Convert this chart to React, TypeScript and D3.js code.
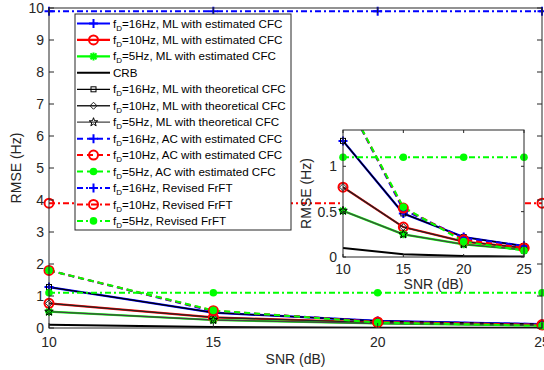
import React from 'react'
import * as d3 from 'd3'

// SNR points (dB)
const snr = [10, 15, 20, 25]

// ML with estimated CFC
const mlEst16 = [1.28, 0.48, 0.22, 0.12]
const mlEst10 = [0.77, 0.33, 0.17, 0.1]
const mlEst5 = [0.51, 0.25, 0.14, 0.08]
// CRB
const crb = [0.1, 0.03, 0.01, 0.005]
// ML with theoretical CFC (drawn on top of the estimated curves)
const mlTheo16 = [1.28, 0.48, 0.22, 0.12]
const mlTheo10 = [0.77, 0.33, 0.17, 0.1]
const mlTheo5 = [0.51, 0.25, 0.14, 0.08]
// AC with estimated CFC
const ac16 = [1.8, 0.52, 0.21, 0.12]
const ac10 = [1.8, 0.54, 0.19, 0.1]
const ac5 = [1.8, 0.55, 0.17, 0.07]
// Revised FrFT
const frft16 = [9.9, 9.9, 9.9, 9.9]
const frft10 = [3.9, 3.9, 3.9, 3.9]
const frft5 = [1.1, 1.1, 1.1, 1.1]

const mainYTicks = [0, 1, 2, 3, 4, 5, 6, 7, 8, 9, 10]
const insetYTicks = [0, 0.5, 1]
const xTicks = [10, 15, 20, 25]

type Marker = 'plus' | 'circle' | 'asterisk' | 'square' | 'diamond' | 'star' | 'dot' | 'none'

type Series = {
  fd: string
  text: string
  values: number[]
  color: string
  width: number
  dash?: string
  marker: Marker
  markerColor?: string
}

const series: Series[] = [
  { fd: '16Hz', text: ', ML with estimated CFC', values: mlEst16, color: '#0000ff', width: 2.2, marker: 'plus' },
  { fd: '10Hz', text: ', ML with estimated CFC', values: mlEst10, color: '#ff0000', width: 2.2, marker: 'circle' },
  { fd: '5Hz', text: ', ML with estimated CFC', values: mlEst5, color: '#00ff00', width: 2.2, marker: 'asterisk' },
  { fd: '', text: 'CRB', values: crb, color: '#000000', width: 2, marker: 'none' },
  { fd: '16Hz', text: ', ML with theoretical CFC', values: mlTheo16, color: '#000000', width: 1.3, marker: 'square' },
  { fd: '10Hz', text: ', ML with theoretical CFC', values: mlTheo10, color: '#222222', width: 1.3, marker: 'diamond' },
  { fd: '5Hz', text: ', ML with theoretical CFC', values: mlTheo5, color: '#444444', width: 1.3, marker: 'star', markerColor: '#000000' },
  { fd: '16Hz', text: ', AC with estimated CFC', values: ac16, color: '#0000ff', width: 2, dash: '6,4', marker: 'plus' },
  { fd: '10Hz', text: ', AC with estimated CFC', values: ac10, color: '#ff0000', width: 2, dash: '6,4', marker: 'circle' },
  { fd: '5Hz', text: ', AC with estimated CFC', values: ac5, color: '#00ff00', width: 2, dash: '6,4', marker: 'dot' },
  { fd: '16Hz', text: ', Revised FrFT', values: frft16, color: '#0000ff', width: 2, dash: '6,3,2,3', marker: 'plus' },
  { fd: '10Hz', text: ', Revised FrFT', values: frft10, color: '#ff0000', width: 2, dash: '6,3,2,3', marker: 'circle' },
  { fd: '5Hz', text: ', Revised FrFT', values: frft5, color: '#00ff00', width: 2, dash: '6,3,2,3', marker: 'dot' },
]

const font = "'Liberation Sans', Arial, Helvetica, sans-serif"
const axisColor = '#262626'

const starPath = (cx: number, cy: number, r: number) => {
  const pts: string[] = []
  for (let i = 0; i < 10; i++) {
    const a = -Math.PI / 2 + (i * Math.PI) / 5
    const rr = i % 2 === 0 ? r : r * 0.4
    pts.push(`${cx + rr * Math.cos(a)},${cy + rr * Math.sin(a)}`)
  }
  return `M${pts.join('L')}Z`
}

const MarkerShape: React.FC<{ type: Marker; x: number; y: number; color: string }> = ({ type, x, y, color }) => {
  switch (type) {
    case 'plus':
      return (
        <path d={`M${x - 4.5},${y}H${x + 4.5}M${x},${y - 4.5}V${y + 4.5}`} stroke={color} strokeWidth={2} />
      )
    case 'circle':
      return <circle cx={x} cy={y} r={4.5} fill="none" stroke={color} strokeWidth={2} />
    case 'asterisk':
      return (
        <path
          d={`M${x - 4},${y}H${x + 4}M${x},${y - 4}V${y + 4}M${x - 3},${y - 3}L${x + 3},${y + 3}M${x - 3},${y + 3}L${x + 3},${y - 3}`}
          stroke={color}
          strokeWidth={2}
        />
      )
    case 'square':
      return <rect x={x - 2.5} y={y - 2.5} width={5} height={5} fill="none" stroke={color} strokeWidth={1} />
    case 'diamond':
      return (
        <path d={`M${x},${y - 3.5}L${x + 3.5},${y}L${x},${y + 3.5}L${x - 3.5},${y}Z`} fill="none" stroke={color} strokeWidth={1} />
      )
    case 'star':
      return <path d={starPath(x, y, 4.5)} fill="none" stroke={color} strokeWidth={1} />
    case 'dot':
      return <circle cx={x} cy={y} r={3.8} fill={color} />
    default:
      return null
  }
}

type AxesProps = {
  id: string
  x: d3.ScaleLinear<number, number>
  y: d3.ScaleLinear<number, number>
  yTicks: number[]
  tickLen: number
  fontSize: number
  xLabelY: number
  yLabelX: number
  xTitleY: number
  yTitleX: number
}

const Axes: React.FC<AxesProps> = ({ id, x, y, yTicks, tickLen, fontSize, xLabelY, yLabelX, xTitleY, yTitleX }) => {
  const [x0, x1] = x.range()
  const [y0, y1] = y.range()
  const line = d3
    .line<number>()
    .x((_, i) => x(snr[i]))
    .y((d) => y(d))
  return (
    <g>
      <defs>
        <clipPath id={id}>
          <rect x={x0} y={y1} width={x1 - x0} height={y0 - y1} />
        </clipPath>
      </defs>
      <rect x={x0} y={y1} width={x1 - x0} height={y0 - y1} fill="#fff" />
      <g clipPath={`url(#${id})`}>
        {series.map((s, i) => (
          <path
            key={i}
            d={line(s.values) ?? ''}
            fill="none"
            stroke={s.color}
            strokeWidth={s.width}
            strokeDasharray={s.dash}
          />
        ))}
      </g>
      <g>
        {series.map((s, i) =>
          s.values.map((v, j) =>
            y(v) >= y1 - 1 && y(v) <= y0 + 1 ? (
              <MarkerShape key={`${i}-${j}`} type={s.marker} x={x(snr[j])} y={y(v)} color={s.markerColor ?? s.color} />
            ) : null,
          ),
        )}
      </g>
      <rect x={x0} y={y1} width={x1 - x0} height={y0 - y1} fill="none" stroke={axisColor} strokeWidth={1} />
      {xTicks.map((t) => (
        <g key={t}>
          <line x1={x(t)} x2={x(t)} y1={y0} y2={y0 - tickLen} stroke={axisColor} />
          <line x1={x(t)} x2={x(t)} y1={y1} y2={y1 + tickLen} stroke={axisColor} />
          <text x={x(t)} y={xLabelY} textAnchor="middle" fontSize={fontSize} fill={axisColor}>
            {t}
          </text>
        </g>
      ))}
      {yTicks.map((t) => (
        <g key={t}>
          <line x1={x0} x2={x0 + tickLen} y1={y(t)} y2={y(t)} stroke={axisColor} />
          <line x1={x1} x2={x1 - tickLen} y1={y(t)} y2={y(t)} stroke={axisColor} />
          <text x={yLabelX} y={y(t)} dy="0.35em" textAnchor="end" fontSize={fontSize} fill={axisColor}>
            {t}
          </text>
        </g>
      ))}
      <text x={(x0 + x1) / 2} y={xTitleY} textAnchor="middle" fontSize={fontSize} fill={axisColor}>
        SNR (dB)
      </text>
      <text
        transform={`translate(${yTitleX},${(y0 + y1) / 2}) rotate(-90)`}
        textAnchor="middle"
        fontSize={fontSize}
        fill={axisColor}
      >
        RMSE (Hz)
      </text>
    </g>
  )
}

const Legend: React.FC = () => {
  const left = 75
  const top = 14
  const step = 16.45
  return (
    <g>
      <rect x={left} y={top} width={216} height={216} fill="#fff" stroke={axisColor} strokeWidth={1} />
      {series.map((s, i) => {
        const cy = 23.5 + i * step
        return (
          <g key={i}>
            <line x1={77} x2={110} y1={cy} y2={cy} stroke={s.color} strokeWidth={s.width} strokeDasharray={s.dash} />
            <MarkerShape type={s.marker} x={93.5} y={cy} color={s.markerColor ?? s.color} />
            <text x={113} y={cy} dy="0.35em" fontSize={11.6} fill="#000">
              {s.fd ? (
                <>
                  f<tspan fontSize={8} dy={3}>D</tspan>
                  <tspan dy={-3}>={s.fd}</tspan>
                  {s.text}
                </>
              ) : (
                s.text
              )}
            </text>
          </g>
        )
      })}
    </g>
  )
}

const App: React.FC = () => {
  const xMain = d3.scaleLinear().domain([10, 25]).range([49, 542])
  const yMain = d3.scaleLinear().domain([0, 10]).range([328, 8])
  const xInset = d3.scaleLinear().domain([10, 25]).range([343, 524])
  const yInset = d3.scaleLinear().domain([0, 1.4]).range([257, 130])
  return (
    <svg
      width={544}
      height={370}
      style={{ position: 'absolute', left: 0, top: 0, background: '#fff', fontFamily: font }}
    >
      <Axes
        id="clip-main"
        x={xMain}
        y={yMain}
        yTicks={mainYTicks}
        tickLen={5}
        fontSize={14}
        xLabelY={347}
        yLabelX={44}
        xTitleY={364}
        yTitleX={21}
      />
      <Legend />
      <Axes
        id="clip-inset"
        x={xInset}
        y={yInset}
        yTicks={insetYTicks}
        tickLen={3}
        fontSize={14}
        xLabelY={274}
        yLabelX={337}
        xTitleY={289}
        yTitleX={311}
      />
    </svg>
  )
}

export default App
